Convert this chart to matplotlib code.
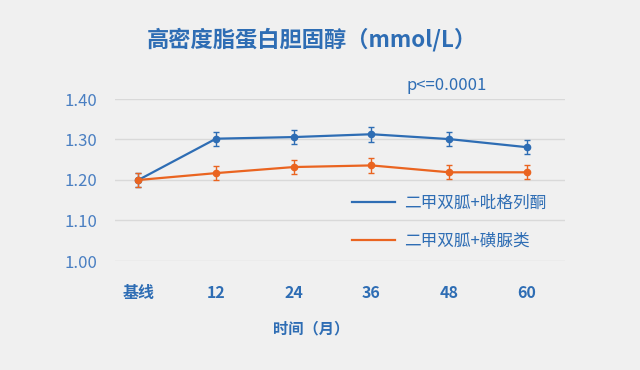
import numpy as np
import matplotlib
matplotlib.use("Agg")
import matplotlib.pyplot as plt
from matplotlib.lines import Line2D

plt.rcParams['font.family'] = ['Noto Sans CJK SC', 'DejaVu Sans']

# 数据
months = ["基线", "12", "24", "36", "48", "60"]
pio_vals = [1.200, 1.302, 1.306, 1.313, 1.301, 1.281]
pio_err = [0.017, 0.017, 0.018, 0.018, 0.017, 0.018]
su_vals = [1.200, 1.217, 1.232, 1.236, 1.219, 1.219]
su_err = [0.017, 0.017, 0.018, 0.018, 0.017, 0.017]
yticks = [1.00, 1.10, 1.20, 1.30, 1.40]
labels = ["二甲双胍+吡格列酮", "二甲双胍+磺脲类"]

BG = "#f0f0f0"
BLUE = "#2e6db4"
ORANGE = "#ea6420"
TEXT = "#2e6db4"
TICK = "#4a7fc2"

fig = plt.figure(figsize=(6.4, 3.7), dpi=100, facecolor=BG)
ax = fig.add_axes([115 / 640, 1 - 261 / 370, 450 / 640, 162 / 370])
ax.set_facecolor(BG)

x = np.arange(len(months))
ax.errorbar(x, pio_vals, yerr=pio_err, color=BLUE, lw=1.6, marker="o",
            markersize=4.5, elinewidth=1, capsize=2, capthick=1,
            label=labels[0], clip_on=False, zorder=3)
ax.errorbar(x, su_vals, yerr=su_err, color=ORANGE, lw=1.6, marker="o",
            markersize=4.5, elinewidth=1, capsize=2, capthick=1,
            label=labels[1], clip_on=False, zorder=3)

ax.set_xlim(-0.30, 5.49)
ax.set_ylim(1.00, 1.40)
ax.set_yticks(yticks)
ax.set_yticklabels(["{:.2f}".format(v) for v in yticks], color=TICK, fontsize=12)
ax.set_xticks(x)
ax.set_xticklabels(months, color=TEXT, fontsize=11.5, fontweight="bold")
ax.tick_params(axis="both", length=0)
ax.tick_params(axis="x", pad=17)
ax.tick_params(axis="y", pad=13)
ax.grid(axis="y", color="#d9d9d9", lw=1)
ax.set_axisbelow(True)
for s in ax.spines.values():
    s.set_visible(False)

# 图例
hs = [Line2D([], [], color=BLUE, lw=1.6), Line2D([], [], color=ORANGE, lw=1.6)]
leg = fig.legend(hs, labels, loc="upper left", bbox_to_anchor=(352 / 640, 1 - 195 / 370),
                 frameon=False, fontsize=12, handlelength=2.6, handletextpad=0.5,
                 labelspacing=1.25, borderpad=0, borderaxespad=0)
for t in leg.get_texts():
    t.set_color(TEXT)

fig.text(312 / 640, 1 - 40 / 370, "高密度脂蛋白胆固醇（mmol/L）", ha="center", va="center",
         fontsize=16, fontweight="bold", color=TEXT)
fig.text(447 / 640, 1 - 85 / 370, "p<=0.0001", ha="center", va="center",
         fontsize=12, color=TEXT)
fig.text(311 / 640, 1 - 328 / 370, "时间（月）", ha="center", va="center",
         fontsize=11, fontweight="bold", color=TEXT)

fig.savefig("out.png", dpi=100, facecolor=BG)
